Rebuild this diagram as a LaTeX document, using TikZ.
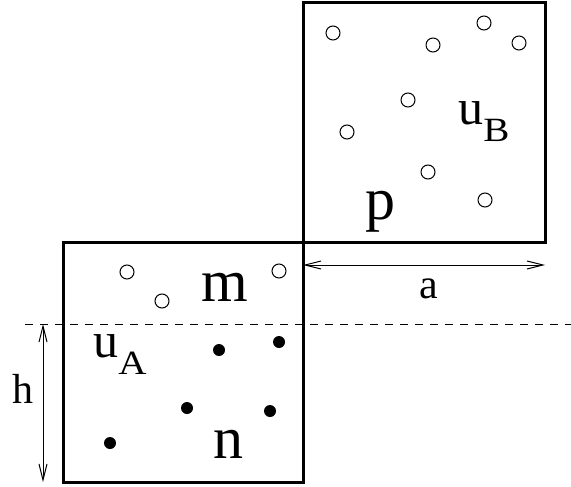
\documentclass[tikz,border=0pt]{standalone}
\usepackage{graphicx}
\usepackage{fontspec}
\setmainfont{Liberation Serif}
\usetikzlibrary{arrows.meta}
\newcommand{\subA}[1]{\raisebox{-8.5pt}{\fontsize{17}{20}\selectfont\scalebox{1.15}[1]{#1}}}
\begin{document}
\begin{tikzpicture}[x=0.5pt, y=-0.5pt, font=\fontsize{21}{25}\selectfont]
  \tikzset{wall/.style={draw, line width=1.5pt},
    empty/.style={draw, circle, line width=0.5pt, inner sep=0pt, minimum size=7pt},
    full/.style={fill, circle, inner sep=0pt, minimum size=6pt},
    big/.style={font=\fontsize{30}{34}\selectfont},
    mid/.style={font=\fontsize{25}{29}\selectfont, inner sep=0pt},
    dim/.style={{Straight Barb[length=8pt,width=4pt]}-{Straight Barb[length=8pt,width=4pt]}, line width=0.5pt}}
  \useasboundingbox (0,0) rectangle (571,486);

  % the two boxes
  \draw[wall] (63,242) rectangle (303,482);
  \draw[wall] (303,3) rectangle (545,242);
  \draw[dashed, dash pattern=on 4pt off 3.5pt, line width=0.5pt] (25,324) -- (571,324);

  % particles in box B
  \node[empty] (b1) at (333,33) {};
  \node[empty] (b2) at (433,45) {};
  \node[empty] (b3) at (484,23) {};
  \node[empty] (b4) at (519,43) {};
  \node[empty] (b5) at (408,100) {};
  \node[empty] (b6) at (347,132) {};
  \node[empty] (b7) at (428,172) {};
  \node[empty] (b8) at (485,200) {};

  % particles in box A
  \node[empty] (a1) at (127,272) {};
  \node[empty] (a2) at (162,301) {};
  \node[empty] (a3) at (279,271) {};
  \node[full] (f1) at (219,350) {};
  \node[full] (f2) at (279,342) {};
  \node[full] (f3) at (187,408) {};
  \node[full] (f4) at (270,411) {};
  \node[full] (f5) at (110,443) {};

  \node[big] (labm) at (225,287) {m};
  \node[big] (labn) at (228,444) {n};
  \node[big] (labp) at (380,212) {p};
  \node[mid] (labuA) at (120,355) {u\subA{A}};
  \node[mid] (labuB) at (484,122) {u\subA{B}};

  % dimensions
  \coordinate (aL) at (303,265);
  \coordinate (aR) at (545,265);
  \draw[dim] (aL) -- (aR);
  \node (laba) at (429,289) {a};
  \coordinate (hT) at (43,324);
  \coordinate (hB) at (43,482);
  \draw[dim] (hT) -- (hB);
  \node (labh) at (23,389) {h};
\end{tikzpicture}
\end{document}
